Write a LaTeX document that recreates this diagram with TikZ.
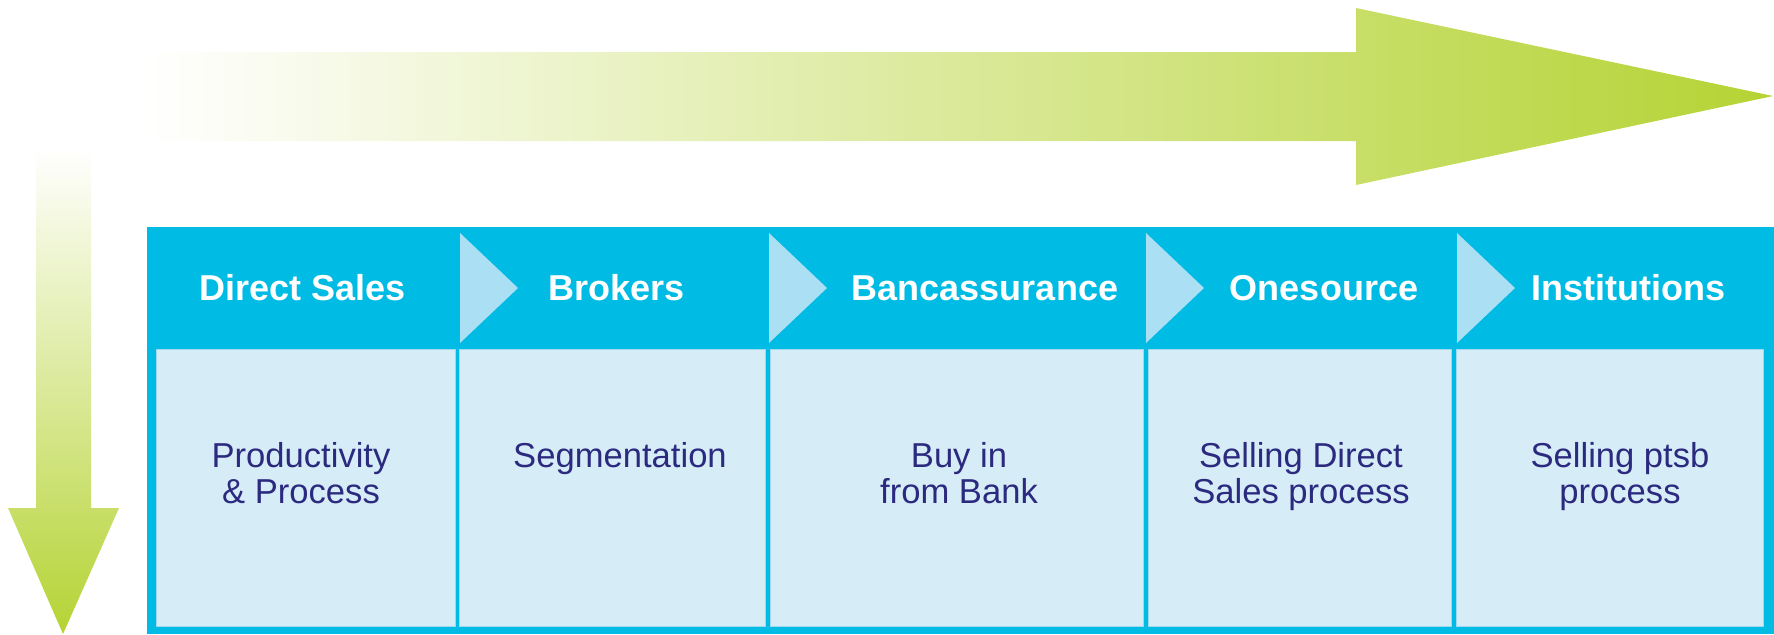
\documentclass[tikz,border=0pt]{standalone}
\usepackage{fontspec}
\setmainfont{Liberation Sans}
\usetikzlibrary{positioning}
\definecolor{framecyan}{RGB}{0,188,228}
\definecolor{cellblue}{RGB}{214,237,248}
\definecolor{cellline}{RGB}{160,216,240}
\definecolor{chevblue}{RGB}{171,223,243}
\definecolor{arrowgreen}{RGB}{181,211,52}
\definecolor{labelnavy}{RGB}{43,42,127}
\tikzstyle{stage_head}=[anchor=base, inner sep=0pt, text=white, font=\fontsize{18}{18}\selectfont\bfseries]
\tikzstyle{stage_body}=[anchor=north, inner sep=0pt, align=center, text=labelnavy, font=\fontsize{17.3}{18}\selectfont]
\tikzstyle{stage_cell}=[fill=cellblue, draw=cellline, line width=0.5pt]
\tikzstyle{stage_chev}=[fill=chevblue]
\begin{document}
\begin{tikzpicture}[x=0.5pt, y=-0.5pt]
          \useasboundingbox (0,0) rectangle (1774,634);
          \shade[left color=white, middle color=arrowgreen!40, right color=arrowgreen] (146,52) -- (1356,52) -- (1356,8) -- (1773,96) -- (1356,185) -- (1356,141) -- (146,141) -- cycle;
          \shade[top color=white, middle color=arrowgreen!40, bottom color=arrowgreen] (36,147) -- (91,147) -- (91,508) -- (119,508) -- (63,634) -- (8,508) -- (36,508) -- cycle;
          \fill[framecyan] (147,227) rectangle (1774,634);
          \foreach \xa/\xb in {156/455, 459/765, 770/1143, 1148/1451, 1456/1763}
            \draw[stage_cell] (\xa,349) rectangle (\xb,626);
          \foreach \xc in {460,769,1146,1457}
            \fill[stage_chev] (\xc,233) -- (\xc+58,288) -- (\xc,343) -- cycle;
          \node[stage_head] (hd0) at (303,300){Direct Sales};
          \node[stage_head] (hd1) at (617,300){Brokers};
          \node[stage_head] (hd2) at (985,300){Bancassurance};
          \node[stage_head] (hd3) at (1324,300){Onesource};
          \node[stage_head] (hd4) at (1628,300){Institutions};
          \node[stage_body] (bd0) at (301,442){Productivity\\\& Process};
          \node[stage_body] (bd1) at (620,442){Segmentation};
          \node[stage_body] (bd2) at (959,442){Buy in\\from Bank};
          \node[stage_body] (bd3) at (1301,442){Selling Direct\\Sales process};
          \node[stage_body] (bd4) at (1620,442){Selling ptsb\\process};
        \end{tikzpicture}
\end{document}
